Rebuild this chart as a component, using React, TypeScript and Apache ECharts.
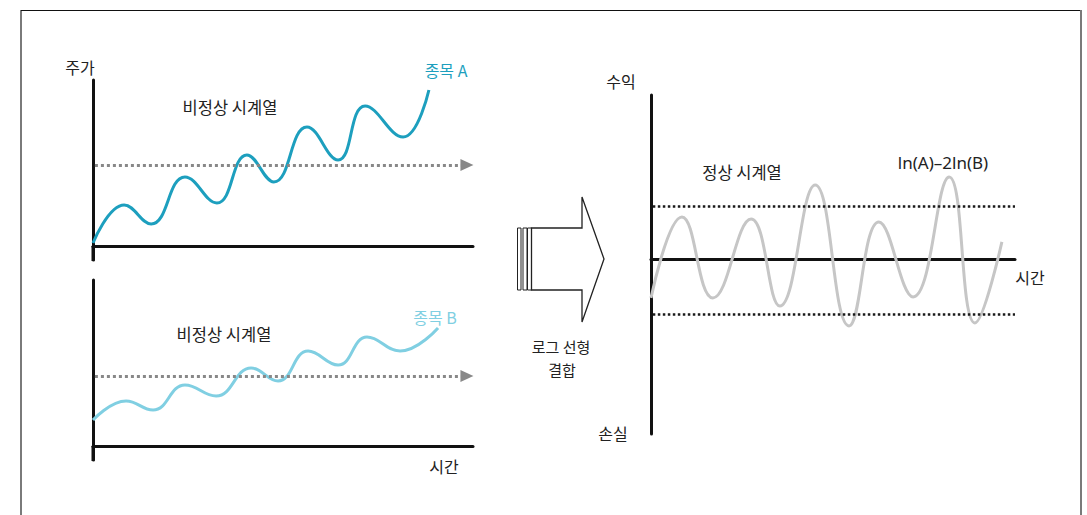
import React, { useEffect, useRef } from "react";
import * as echarts from "echarts";

// Time axis (0–100) and price levels for the two non-stationary stocks
const timeA = [0, 8.2, 15.3, 24.2, 32.6, 40.5, 47.6, 56.3, 64.5, 71.6, 81.6, 88.4];
const priceA = [2.2, 25, 13.6, 41.8, 26.2, 55, 38.8, 71.8, 52, 84.4, 65.8, 94];
const meanA = 49;

const timeB = [0, 8.7, 15.8, 24.2, 32.4, 41.6, 48.7, 56.6, 64.5, 72.1, 80.8, 90.8];
const priceB = [16, 27.4, 22, 37, 30.4, 47.2, 39.4, 57.4, 49, 65.8, 57.4, 71.2];
const meanB = 42.4;

// Log-linear combination ln(A) - 2ln(B): a stationary spread
const timeC = [0, 8.5, 17, 27.5, 35.4, 45.1, 54.4, 62.6, 72, 81.9, 89, 96.4];
const spread = [-23.9, 25.5, -23.9, 24.3, -28.8, 45, -41, 22.5, -23.3, 50, -39.2, 10.3];
const bandUpper = 32.2;
const bandLower = -33.7;

const FONT = '"Noto Sans CJK KR", "Noto Sans", sans-serif';
const TEXT = "#222";
const AXIS = "#111";

const zip = (xs: number[], ys: number[]) => xs.map((x, i) => [x, ys[i]]);

const axisX = (gridIndex: number) => ({
  type: "value" as const,
  gridIndex,
  min: 0,
  max: 100,
  axisLine: { show: true, onZero: true, lineStyle: { color: AXIS, width: 3 } },
  axisTick: { show: false },
  axisLabel: { show: false },
  splitLine: { show: false },
});

const axisY = (gridIndex: number, min: number, max: number) => ({
  type: "value" as const,
  gridIndex,
  min,
  max,
  axisLine: { show: true, onZero: false, lineStyle: { color: AXIS, width: 3 } },
  axisTick: { show: false },
  axisLabel: { show: false },
  splitLine: { show: false },
});

const label = (text: string, x: number, y: number, color = TEXT, size = 16, family = FONT) => ({
  type: "text",
  x,
  y,
  style: {
    text,
    fill: color,
    font: `${size}px ${family}`,
    align: "center",
    verticalAlign: "middle",
  },
});

export default function App() {
  const ref = useRef<HTMLDivElement>(null);

  useEffect(() => {
    if (!ref.current) return;
    const chart = echarts.init(ref.current, null, { renderer: "svg" });

    const trendArrow = (y: number) => ({
      silent: true,
      symbol: ["none", "triangle"],
      symbolSize: [12, 13],
      label: { show: false },
      lineStyle: { color: "#888", width: 3, type: [3, 3] },
      itemStyle: { color: "#888" },
      data: [[{ coord: [0.5, y] }, { coord: [98.4, y] }]],
    });

    chart.setOption({
      animation: false,
      backgroundColor: "#fff",
      grid: [
        { left: 93, top: 80, width: 380, height: 180 },
        { left: 93, top: 280, width: 380, height: 180 },
        { left: 651, top: 95, width: 364, height: 339 },
      ],
      xAxis: [axisX(0), axisX(1), axisX(2)],
      yAxis: [axisY(0, -8, 100), axisY(1, -8, 100), axisY(2, -107, 100)],
      series: [
        {
          name: "종목 A",
          type: "line",
          xAxisIndex: 0,
          yAxisIndex: 0,
          data: zip(timeA, priceA),
          smooth: 0.45,
          showSymbol: false,
          lineStyle: { color: "#1d9fbe", width: 3 },
          markLine: trendArrow(meanA),
        },
        {
          name: "종목 B",
          type: "line",
          xAxisIndex: 1,
          yAxisIndex: 1,
          data: zip(timeB, priceB),
          smooth: 0.45,
          showSymbol: false,
          lineStyle: { color: "#80cfe2", width: 3 },
          markLine: trendArrow(meanB),
        },
        {
          name: "ln(A)–2ln(B)",
          type: "line",
          xAxisIndex: 2,
          yAxisIndex: 2,
          data: zip(timeC, spread),
          smooth: 0.45,
          showSymbol: false,
          lineStyle: { color: "#c6c6c6", width: 3 },
          markLine: {
            silent: true,
            symbol: ["none", "none"],
            label: { show: false },
            lineStyle: { color: "#1a1a1a", width: 2.5, type: [2.5, 2.5] },
            data: [
              [{ coord: [0.5, bandUpper] }, { coord: [100, bandUpper] }],
              [{ coord: [0.5, bandLower] }, { coord: [100, bandLower] }],
            ],
          },
        },
      ],
      graphic: [
        // outer frame
        { type: "line", shape: { x1: 21, y1: 10, x2: 21, y2: 515 }, style: { stroke: "#7a7a7a", lineWidth: 2 } },
        { type: "line", shape: { x1: 21, y1: 10.5, x2: 1081, y2: 10.5 }, style: { stroke: "#111", lineWidth: 1 } },
        { type: "line", shape: { x1: 1081, y1: 10, x2: 1081, y2: 515 }, style: { stroke: "#7a7a7a", lineWidth: 2 } },
        // y-axis overhang below the time axis
        { type: "line", shape: { x1: 93, y1: 246, x2: 93, y2: 261 }, style: { stroke: AXIS, lineWidth: 3 } },
        { type: "line", shape: { x1: 93, y1: 446, x2: 93, y2: 461 }, style: { stroke: AXIS, lineWidth: 3 } },
        // block arrow for the log-linear combination
        { type: "rect", shape: { x: 517.5, y: 228, width: 3.5, height: 62 }, style: { fill: "#fff", stroke: "#222", lineWidth: 1 } },
        { type: "rect", shape: { x: 523, y: 228, width: 4, height: 62 }, style: { fill: "#fff", stroke: "#222", lineWidth: 1 } },
        { type: "rect", shape: { x: 527.5, y: 228, width: 4, height: 62 }, style: { fill: "#fff", stroke: "#222", lineWidth: 1 } },
        {
          type: "polygon",
          shape: {
            points: [
              [531.5, 228],
              [582, 228],
              [582, 197],
              [604, 259],
              [582, 322],
              [582, 290],
              [531.5, 290],
            ],
          },
          style: { fill: "#fff", stroke: "#222", lineWidth: 1.3 },
        },
        // texts
        label("주가", 80, 67),
        label("종목 A", 446, 70, "#1d9fbe"),
        label("비정상 시계열", 230, 107, TEXT, 16.5),
        label("종목 B", 435, 317, "#80cfe2"),
        label("비정상 시계열", 224, 334, TEXT, 16.5),
        label("시간", 444, 466),
        label("로그 선형", 561, 346, TEXT, 15),
        label("결합", 562, 369, TEXT, 15),
        label("수익", 621, 81),
        label("손실", 613, 433),
        label("시간", 1030, 277),
        label("정상 시계열", 742, 172, TEXT, 16.5),
        label("ln(A)–2ln(B)", 943, 162, TEXT, 17, '"Noto Sans", sans-serif'),
      ],
    });

    return () => chart.dispose();
  }, []);

  return (
    <div
      ref={ref}
      style={{ position: "fixed", left: 0, top: 0, width: 1087, height: 515, background: "#fff" }}
    />
  );
}
